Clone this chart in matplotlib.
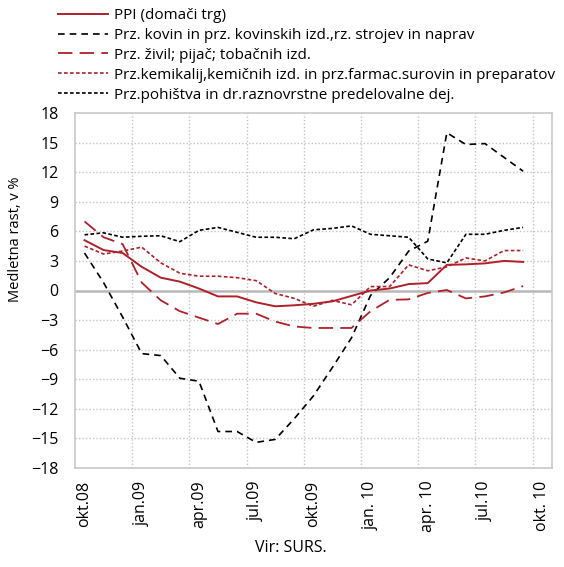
import matplotlib
matplotlib.use("Agg")
import matplotlib.pyplot as plt
import numpy as np

plt.rcParams['font.family'] = ['Open Sans', 'DejaVu Sans']

months = ["okt.08", "nov.08", "dec.08", "jan.09", "feb.09", "mar.09", "apr.09", "maj.09",
          "jun.09", "jul.09", "avg.09", "sep.09", "okt.09", "nov.09", "dec.09", "jan.10",
          "feb.10", "mar.10", "apr.10", "maj.10", "jun.10", "jul.10", "avg.10", "sep.10", "okt.10"]
tick_labels = ["okt.08", "jan.09", "apr.09", "jul.09", "okt.09", "jan. 10", "apr. 10", "jul.10", "okt. 10"]

ppi = [5.1, 4.1, 3.8, 2.4, 1.3, 0.9, 0.2, -0.6, -0.6, -1.2, -1.6, -1.5, -1.35, -1.1, -0.55,
       0.0, 0.2, 0.65, 0.75, 2.6, 2.65, 2.75, 3.0, 2.9]
kovine = [3.8, 0.8, -2.7, -6.4, -6.6, -8.9, -9.2, -14.3, -14.3, -15.4, -15.1, -13.0, -10.7,
          -7.8, -4.8, -0.5, 1.3, 4.0, 5.0, 16.0, 14.8, 14.9, 13.5, 12.1]
zivila = [7.0, 5.4, 4.7, 0.8, -1.0, -2.1, -2.75, -3.4, -2.35, -2.35, -3.15, -3.65, -3.8,
          -3.8, -3.8, -2.1, -0.95, -0.9, -0.25, 0.05, -0.8, -0.6, -0.2, 0.45]
kemikalije = [4.5, 3.7, 4.0, 4.4, 2.8, 1.75, 1.45, 1.45, 1.3, 1.0, -0.3, -0.8, -1.6, -1.0,
              -1.45, 0.4, 0.4, 2.6, 2.0, 2.4, 3.3, 3.0, 4.05, 4.05]
pohistvo = [5.65, 5.85, 5.4, 5.5, 5.55, 4.95, 6.1, 6.4, 5.9, 5.4, 5.4, 5.25, 6.15, 6.3,
            6.55, 5.7, 5.55, 5.4, 3.2, 2.8, 5.7, 5.7, 6.1, 6.4]

labels = ["PPI (domači trg)",
          "Prz. kovin in prz. kovinskih izd.,rz. strojev in naprav",
          "Prz. živil; pijač; tobačnih izd.",
          "Prz.kemikalij,kemičnih izd. in prz.farmac.surovin in preparatov",
          "Prz.pohištva in dr.raznovrstne predelovalne dej."]

RED = "#B0202A"
W, H = 564, 567
fig = plt.figure(figsize=(W / 100, H / 100), dpi=100)
ax = fig.add_axes([75 / W, 1 - 468 / H, (551.7 - 75) / W, (468 - 113) / H])

x = np.arange(len(ppi))
ax.plot(x, ppi, color=RED, lw=1.4, ls='-', label=labels[0], zorder=5)
ax.plot(x, kovine, color='black', lw=1.2, ls=(0, (4, 3)), label=labels[1], zorder=4)
ax.plot(x, zivila, color=RED, lw=1.3, ls=(0, (8, 4)), label=labels[2], zorder=4)
ax.plot(x, kemikalije, color=RED, lw=1.2, ls=(0, (2.2, 1.4)), label=labels[3], zorder=4)
ax.plot(x, pohistvo, color='black', lw=1.2, ls=(0, (2.2, 1.4)), label=labels[4], zorder=4)

ax.set_xlim(-0.5, len(months) - 0.5)
ax.set_ylim(-18, 18)
ax.set_yticks(np.arange(-18, 19, 3))
ax.set_xticks(np.arange(0, len(months), 3))
ax.set_xticklabels(tick_labels, rotation=90)
ax.tick_params(axis='both', length=0, labelsize=11.5)
ax.tick_params(axis='y', pad=12)
ax.tick_params(axis='x', pad=9)

for gx in np.arange(-0.5, len(months) - 0.5, 3)[1:]:
    ax.axvline(gx, color='#c4c4c4', lw=1.0, ls=(0, (1, 1.5)), zorder=1)
for gy in np.arange(-15, 18, 3):
    if gy != 0:
        ax.axhline(gy, color='#c4c4c4', lw=1.0, ls=(0, (1, 1.5)), zorder=1)
ax.axhline(0, color='#b8b8b8', lw=1.8, zorder=2)
for s in ax.spines.values():
    s.set_color('#c8c8c8')
    s.set_linewidth(1.2)

ax.set_ylabel("Medletna rast, v %", fontsize=10.5)
ax.yaxis.set_label_coords((23 - 75) / 476.7, (468 - 239) / 355)

fig.legend(loc='upper left', bbox_to_anchor=(58 / W, 1 - 8 / H), frameon=False,
           fontsize=11.0, handlelength=3.3, handletextpad=0.35, labelspacing=0.32,
           borderaxespad=0, borderpad=0)

fig.text(291 / W, 1 - 548 / H, "Vir: SURS.", ha='center', va='center', fontsize=11.5)

fig.savefig("out.png", dpi=100)
